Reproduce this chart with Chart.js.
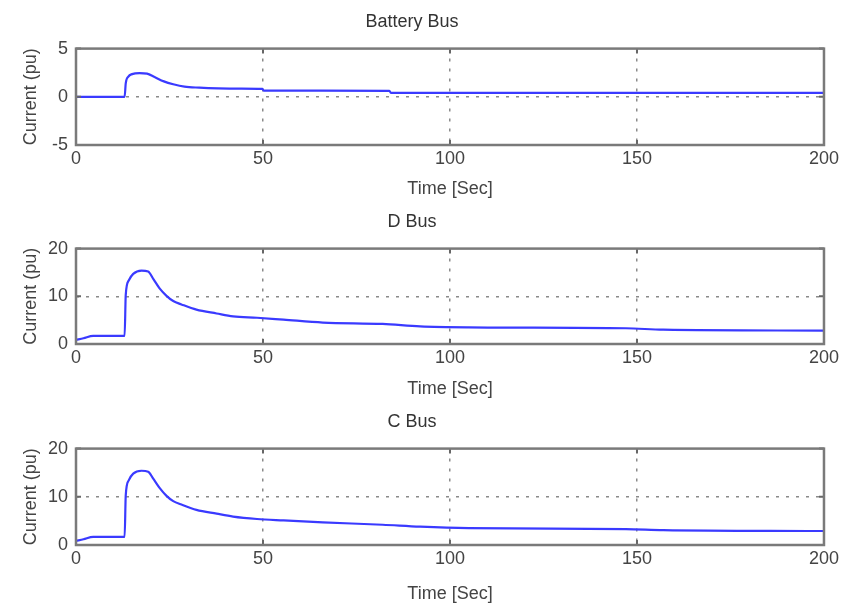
<!DOCTYPE html>
<html>
<head>
<meta charset="utf-8">
<script src="https://cdn.jsdelivr.net/npm/chart.js@4"></script>
<style>
  body { margin: 0; background: #fff; }
  canvas { display: block; }
</style>
</head>
<body>
<canvas id="battery-chart" width="842" height="200"></canvas>
<canvas id="d-chart" width="842" height="200"></canvas>
<canvas id="c-chart" width="842" height="205"></canvas>
<script>
// values
const xTicks = [0, 50, 100, 150, 200];
const batteryTicks = [-5, 0, 5];
const busTicks = [0, 10, 20];

const batteryTime = [0, 13, 13.3, 14, 15, 17, 19, 21, 23.5, 26, 29, 33, 38, 44, 49.8, 50.2, 83.8, 84.2, 200];
const batteryCurrent = [0, 0, 1.4, 2.1, 2.35, 2.45, 2.4, 2.05, 1.6, 1.3, 1.05, 0.95, 0.88, 0.85, 0.82, 0.65, 0.62, 0.4, 0.4];

const busTime = [0, 2, 4.6, 13, 13.3, 14.1, 15.3, 17.5, 19.3, 20.7, 22.4, 24.2, 26, 28.2, 32.2, 37.6, 42, 48.4, 55.5, 66, 82, 92, 105, 147, 157, 200];
const dBusCurrent = [0.85, 1.2, 1.7, 1.7, 10.3, 13.3, 14.7, 15.4, 15.2, 13.6, 11.6, 10.1, 9.0, 8.3, 7.2, 6.4, 5.8, 5.5, 5.1, 4.5, 4.2, 3.7, 3.5, 3.3, 3.0, 2.8];
const cBusCurrent = [0.85, 1.2, 1.7, 1.7, 10.3, 13.4, 14.8, 15.4, 15.2, 13.7, 11.8, 10.2, 9.1, 8.4, 7.3, 6.5, 5.9, 5.4, 5.1, 4.7, 4.2, 3.8, 3.5, 3.3, 3.1, 2.9];

const FONT = "'Liberation Sans', Arial, sans-serif";

// matlab-like frame with small inward ticks
const boxPlugin = {
    id: 'box',
    afterDraw(chart) {
        const ctx = chart.ctx;
        const a = chart.chartArea;
        const xs = chart.scales.x;
        const ys = chart.scales.y;
        ctx.save();
        ctx.strokeStyle = '#666';
        ctx.lineWidth = 2;
        ctx.beginPath();
        xs.ticks.forEach(t => {
            const px = xs.getPixelForValue(t.value);
            ctx.moveTo(px, a.bottom); ctx.lineTo(px, a.bottom - 5);
            ctx.moveTo(px, a.top); ctx.lineTo(px, a.top + 5);
        });
        ys.ticks.forEach(t => {
            const py = ys.getPixelForValue(t.value);
            ctx.moveTo(a.left, py); ctx.lineTo(a.left + 5, py);
            ctx.moveTo(a.right, py); ctx.lineTo(a.right - 5, py);
        });
        ctx.stroke();
        ctx.strokeStyle = '#7a7a7a';
        ctx.lineWidth = 2.5;
        ctx.strokeRect(a.left, a.top, a.right - a.left, a.bottom - a.top);
        ctx.restore();
    }
};

function createChart(id, title, times, values, yTicks, xAxisHeight) {
    const ctx = document.getElementById(id).getContext('2d');
    const yMin = yTicks[0];
    const yMax = yTicks[yTicks.length - 1];

    new Chart(ctx, {
        type: 'line',
        data: {
            datasets: [{
                data: times.map((t, i) => ({ x: t, y: values[i] })),
                borderColor: '#3a3aff',
                borderWidth: 2.2,
                pointRadius: 0,
                cubicInterpolationMode: 'monotone',
                fill: false
            }]
        },
        options: {
            responsive: false,
            animation: false,
            layout: { padding: { left: 0, right: 18, top: 0, bottom: 0 } },
            plugins: {
                legend: { display: false },
                tooltip: { enabled: false },
                title: {
                    display: true,
                    text: title,
                    color: '#333',
                    font: { family: FONT, size: 18, weight: 'normal' },
                    padding: { top: 11, bottom: 16 }
                }
            },
            scales: {
                x: {
                    type: 'linear',
                    min: 0,
                    max: 200,
                    afterBuildTicks: s => { s.ticks = xTicks.map(v => ({ value: v })); },
                    afterFit: s => { s.height = xAxisHeight; },
                    border: { display: false, dash: [3, 7] },
                    grid: {
                        drawTicks: false,
                        color: c => (c.tick && (c.tick.value === 0 || c.tick.value === 200)) ? 'rgba(0,0,0,0)' : '#8a8a8a',
                        lineWidth: 1.5
                    },
                    ticks: {
                        color: '#444',
                        padding: 3,
                        maxRotation: 0,
                        font: { family: FONT, size: 18 }
                    },
                    title: {
                        display: true,
                        text: 'Time [Sec]',
                        color: '#444',
                        font: { family: FONT, size: 18 },
                        padding: { top: 0, bottom: 0 }
                    }
                },
                y: {
                    min: yMin,
                    max: yMax,
                    afterBuildTicks: s => { s.ticks = yTicks.map(v => ({ value: v })); },
                    afterFit: s => { s.width = 76; },
                    border: { display: false, dash: [3, 7] },
                    grid: {
                        drawTicks: false,
                        color: c => (c.tick && (c.tick.value === yMin || c.tick.value === yMax)) ? 'rgba(0,0,0,0)' : '#8a8a8a',
                        lineWidth: 1.5
                    },
                    ticks: {
                        color: '#444',
                        padding: 8,
                        font: { family: FONT, size: 18 }
                    },
                    title: {
                        display: true,
                        text: 'Current (pu)',
                        color: '#444',
                        font: { family: FONT, size: 18 },
                        padding: { top: 20, bottom: 0 }
                    }
                }
            }
        },
        plugins: [boxPlugin]
    });
}

createChart('battery-chart', 'Battery Bus', batteryTime, batteryCurrent, batteryTicks, 55);
createChart('d-chart', 'D Bus', busTime, dBusCurrent, busTicks, 56);
createChart('c-chart', 'C Bus', busTime, cBusCurrent, busTicks, 60);
</script>
</body>
</html>
